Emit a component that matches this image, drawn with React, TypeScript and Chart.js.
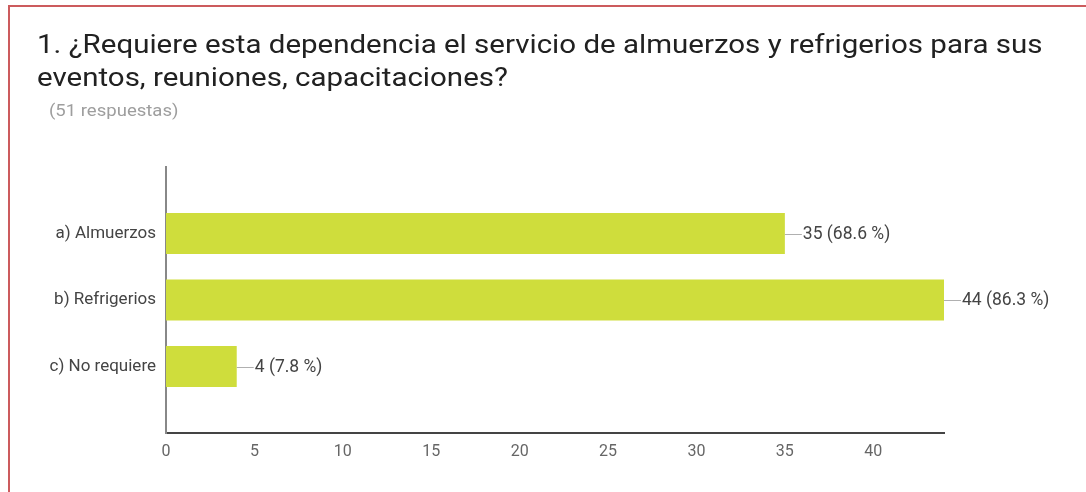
import React, { useEffect, useRef } from "react";
import { Chart, registerables } from "chart.js";

Chart.register(...registerables);

const categories = ["a) Almuerzos", "b) Refrigerios", "c) No requiere"];
const counts = [35, 44, 4];
const percents = ["68.6", "86.3", "7.8"];
const xTickStep = 5;
const titleLines = [
  "1. ¿Requiere esta dependencia el servicio de almuerzos y refrigerios para sus",
  "eventos, reuniones, capacitaciones?",
];
const subtitle = "(51 respuestas)";

const FONT = "Roboto, 'Noto Sans', sans-serif";

const barLabelPlugin = {
  id: "barLabels",
  afterDatasetsDraw(chart: any) {
    const ctx = chart.ctx;
    const meta = chart.getDatasetMeta(0);
    ctx.save();
    meta.data.forEach((el: any, i: number) => {
      const idx = i - 1;
      if (idx < 0 || idx >= counts.length) return;
      const x = el.x;
      const y = el.y;
      ctx.strokeStyle = "#b0b0b0";
      ctx.lineWidth = 1;
      ctx.beginPath();
      ctx.moveTo(x, Math.round(y) + 0.5);
      ctx.lineTo(x + 17, Math.round(y) + 0.5);
      ctx.stroke();
      ctx.fillStyle = "#444444";
      ctx.font = `17.5px ${FONT}`;
      ctx.textAlign = "left";
      ctx.textBaseline = "middle";
      ctx.fillText(`${counts[idx]} (${percents[idx]} %)`, x + 18, y + 1);
    });
    ctx.restore();
  },
};

export default function App() {
  const ref = useRef<HTMLCanvasElement>(null);

  useEffect(() => {
    if (!ref.current) return;
    const labels = ["", ...categories, ""];
    const data = [null, ...counts, null];
    const chart = new Chart(ref.current, {
      type: "bar",
      data: {
        labels,
        datasets: [
          {
            data,
            backgroundColor: "#cfdd3c",
            borderWidth: 0,
            barPercentage: 1,
            categoryPercentage: 0.62,
          },
        ],
      },
      options: {
        indexAxis: "y",
        animation: false,
        responsive: false,
        events: [],
        layout: { padding: { top: 167, right: 142, left: 0, bottom: 0 } },
        plugins: {
          legend: { display: false },
          tooltip: { enabled: false },
          title: { display: false },
        },
        scales: {
          x: {
            min: 0,
            max: Math.max(...counts),
            grid: { display: false, drawTicks: false },
            border: { display: true, color: "#444444", width: 2 },
            ticks: {
              stepSize: xTickStep,
              padding: 9,
              color: "#666666",
              font: { family: FONT, size: 16 },
            },
            afterBuildTicks(scale: any) {
              scale.ticks = scale.ticks.filter((t: any) => t.value % xTickStep === 0);
            },
            afterFit(scale: any) {
              scale.height = 59;
            },
          },
          y: {
            offset: false,
            grid: { display: false, drawTicks: false },
            border: { display: true, color: "#888888", width: 2 },
            ticks: {
              padding: 10,
              color: "#444444",
              font: { family: FONT, size: 17 },
              autoSkip: false,
            },
            afterFit(scale: any) {
              scale.width = 166;
            },
          },
        },
      },
      plugins: [barLabelPlugin],
    });
    return () => chart.destroy();
  }, []);

  return (
    <div
      style={{
        position: "absolute",
        left: 0,
        top: 0,
        width: 1086,
        height: 492,
        background: "#ffffff",
        overflow: "hidden",
        fontFamily: FONT,
      }}
    >
      <div
        style={{
          position: "absolute",
          left: 8,
          top: 5,
          width: 1090,
          height: 500,
          borderLeft: "2px solid #cc5b5d",
          borderTop: "2px solid #cc5b5d",
        }}
      />
      <canvas
        ref={ref}
        width={1086}
        height={492}
        style={{ position: "absolute", left: 0, top: 0 }}
      />
      <div
        style={{
          position: "absolute",
          left: 37,
          top: 28,
          fontSize: 26,
          lineHeight: "33px",
          color: "#212121",
          whiteSpace: "nowrap",
          transform: "scaleX(1.134)",
          transformOrigin: "left top",
        }}
      >
        {titleLines.map((l, i) => (
          <div key={i}>{l}</div>
        ))}
      </div>
      <div
        style={{
          position: "absolute",
          left: 49,
          top: 99,
          fontSize: 17,
          lineHeight: "22px",
          color: "#9e9e9e",
          whiteSpace: "nowrap",
          transform: "scaleX(1.09)",
          transformOrigin: "left top",
        }}
      >
        {subtitle}
      </div>
    </div>
  );
}
